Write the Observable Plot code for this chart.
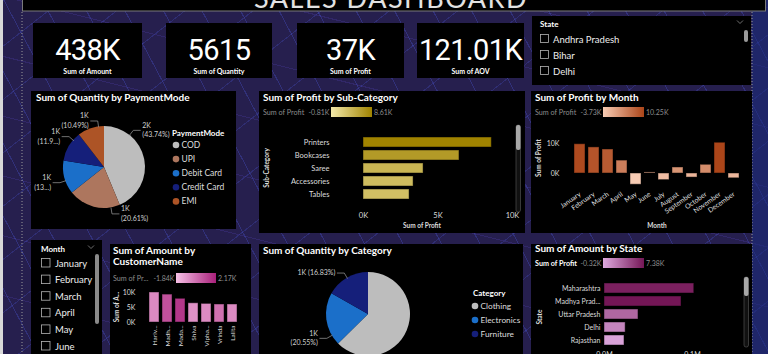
<!DOCTYPE html>
<html>
<head>
<meta charset="utf-8">
<script src="https://cdn.jsdelivr.net/npm/d3@7"></script>
<script src="https://cdn.jsdelivr.net/npm/@observablehq/plot@0.6"></script>
<style>
  html, body { margin:0; padding:0; background:#251e4c; overflow:hidden; }
  #root {
    position:relative; width:768px; height:354px; overflow:hidden;
    font-family: Lato, "Open Sans", sans-serif;
    background:
      repeating-linear-gradient(62deg, transparent 0 33px, rgba(72,84,210,.33) 33px 34px),
      repeating-linear-gradient(-38deg, transparent 0 41px, rgba(72,84,210,.28) 41px 42px),
      repeating-linear-gradient(14deg, transparent 0 57px, rgba(90,70,200,.22) 57px 58px),
      #261f4e;
  }
</style>
</head>
<body>
<div id="root">
  <svg id="base" width="768" height="354" style="position:absolute;left:0;top:0"></svg>
</div>
<script>
// ---------------- DATA ----------------
const dashboardTitle = "SALES DASHBOARD";
const kpiValues = ["438K", "5615", "37K", "121.01K"];
const kpiLabels = ["Sum of Amount", "Sum of Quantity", "Sum of Profit", "Sum of AOV"];
const stateSlicerItems = ["Andhra Pradesh", "Bihar", "Delhi"];
const monthSlicerItems = ["January", "February", "March", "April", "May", "June"];

const paymentModes = ["COD", "UPI", "Debit Card", "Credit Card", "EMI"];
const paymentShare = [43.74, 20.61, 13.21, 11.95, 10.49];
const paymentValueLabels = ["2K", "1K", "1K", "1K", "1K"];
const paymentPctLabels = ["(43.74%)", "(20.61%)", "(13...)", "(11.9...)", "(10.49%)"];

const subCategories = ["Printers", "Bookcases", "Saree", "Accessories", "Tables"];
const subCategoryProfit = [8.61, 6.44, 4.03, 3.36, 3.09]; // K
const subCategoryRange = [-0.81, 8.61];

const months = ["January", "February", "March", "April", "May", "June", "July", "August", "September", "October", "November", "December"];
const monthProfit = [9.75, 8.7, 8.0, 4.3, -3.73, 0.35, -2.2, 2.0, -1.35, 2.9, 10.25, -1.6]; // K
const monthRange = [-3.73, 10.25];

const customers = ["Hariv...", "Madh...", "Mada...", "Shiva", "Vipha...", "Vrinda", "Lalita"];
const customerAmount = [10.0, 9.3, 7.9, 6.4, 6.2, 6.0, 6.0]; // K
const customerProfit = [-0.45, 0.95, 1.6, -0.65, -0.5, 0.15, -0.5]; // K
const customerRange = [-1.84, 2.17];

const categories = ["Clothing", "Electronics", "Furniture"];
const categoryShare = [62.62, 20.55, 16.83];
const categoryLabelLines = [[], ["1K", "(20.55%)"], ["1K (16.83%)"]];

const states = ["Maharashtra", "Madhya Prad...", "Uttar Pradesh", "Delhi", "Rajasthan"];
const stateAmount = [0.102, 0.0875, 0.0386, 0.024, 0.0227]; // M
const stateProfit = [6.85, 7.38, 3.15, 1.6, 0.1]; // K
const stateRange = [-0.32, 7.38];

// ---------------- STYLES ----------------
const paymentColors = ["#bdbdbd", "#ad765e", "#1b6fc9", "#151f7a", "#ad5426"];
const categoryColors = ["#bdbdbd", "#1b6fc9", "#151f7a"];
const ramps = {
  sub: ["#f3e9aa", "#a08300"],
  month: ["#f8ccb4", "#ab4519"],
  cust: ["#f6c0e6", "#a8207a"],
  state: ["#dfaadf", "#741656"]
};
const FONT = "Lato, 'Open Sans', sans-serif";
const plotStyle = {background: "transparent", color: "#dcdcdc", fontFamily: FONT, fontSize: "7px", overflow: "visible"};
const fmtK = v => v.toFixed(2) + "K";

const root = document.getElementById("root");
const base = d3.select("#base");

// ---------------- BASE LAYOUT ----------------
function box(sel, x, y, w, h, fill, o = {}) {
  const r = sel.append("rect").attr("x", x).attr("y", y).attr("width", w).attr("height", h).attr("fill", fill);
  if (o.stroke) r.attr("stroke", o.stroke).attr("stroke-width", o.sw || 1);
  if (o.rx) r.attr("rx", o.rx);
  if (o.opacity != null) r.attr("fill-opacity", o.opacity);
  return r;
}
box(base, 752, 0, 16, 354, "#1a2c80", {opacity: 0.55});
box(base, 0, 0, 3, 354, "#d9d9d9");
base.append("line").attr("x1", 22).attr("x2", 22).attr("y1", 12).attr("y2", 354).attr("stroke", "#9a9a9a").attr("stroke-dasharray", "1,2");
base.append("line").attr("x1", 752).attr("x2", 752).attr("y1", 12).attr("y2", 354).attr("stroke", "#9a9a9a").attr("stroke-dasharray", "1,2");
box(base, 22.5, -2, 743, 13, "#000", {stroke: "#7a7a7a"});

const panelBoxes = [
  [33, 23, 109, 55], [166, 23, 106, 55], [297, 23, 107, 55], [417, 23, 107, 55],
  [532, 16, 219, 69],
  [31, 91, 205, 138], [259, 91, 266, 142], [531, 91, 221, 142],
  [31, 240, 71, 120], [110, 244, 141, 120], [259, 244, 264, 120], [531, 244, 221, 120]
];
panelBoxes.forEach(([x, y, w, h]) => box(base, x, y, w, h, "#000"));

function mount(svg, x, y) {
  svg.style.position = "absolute";
  svg.style.left = x + "px";
  svg.style.top = y + "px";
  root.appendChild(svg);
}

// ---------------- PIE HELPER ----------------
function piePlot({width, height, cx, cy, r, values, colors, labelAt, lines}) {
  const arcs = d3.pie().sort(null).value(d => d)(values);
  const pts = [], txt = [];
  arcs.forEach((a, i) => {
    if (!lines[i] || !lines[i].length) return;
    const th = a.startAngle + labelAt[i] * (a.endAngle - a.startAngle);
    const s = Math.sin(th), c = -Math.cos(th);
    const side = s >= 0 ? 1 : -1;
    const p0 = [cx + r * s, cy + r * c];
    const p1 = [cx + (r + 6) * s, cy + (r + 6) * c];
    const p2 = [p1[0] + side * 7, p1[1]];
    [p0, p1, p2].forEach(p => pts.push({i, x: p[0], y: p[1]}));
    const n = lines[i].length;
    lines[i].forEach((ln, k) => txt.push({x: p2[0] + side * 2, y: p2[1] + (k - (n - 1) / 2) * 9.5, text: ln, side}));
  });
  const wedges = () => {
    const g = d3.create("svg:g").attr("transform", `translate(${cx},${cy})`);
    const arc = d3.arc().innerRadius(0).outerRadius(r);
    g.selectAll("path").data(arcs).join("path").attr("d", arc).attr("fill", (d, i) => colors[i]);
    return g.node();
  };
  return Plot.plot({
    width, height, margin: 0,
    x: {type: "identity", axis: null},
    y: {type: "identity", axis: null},
    style: plotStyle,
    marks: [
      wedges,
      Plot.line(pts, {x: "x", y: "y", z: "i", stroke: "#8c8c8c", strokeWidth: 0.8}),
      Plot.text(txt.filter(d => d.side > 0), {x: "x", y: "y", text: "text", textAnchor: "start", fill: "#cfcfcf", fontSize: 7}),
      Plot.text(txt.filter(d => d.side < 0), {x: "x", y: "y", text: "text", textAnchor: "end", fill: "#cfcfcf", fontSize: 7})
    ]
  });
}

// ---------------- CHARTS ----------------
// Payment mode pie
mount(piePlot({
  width: 205, height: 138, cx: 73, cy: 76, r: 41,
  values: paymentShare, colors: paymentColors,
  labelAt: [0.24, 0.18, 0.41, 0.74, 0.78],
  lines: paymentModes.map((_, i) => [paymentValueLabels[i], paymentPctLabels[i]])
}), 31, 91);

// Profit by sub-category
const subData = subCategories.map((name, i) => ({name, profit: subCategoryProfit[i]}));
mount(Plot.plot({
  width: 266, height: 112, marginLeft: 104, marginRight: 13, marginTop: 14, marginBottom: 30,
  style: plotStyle,
  x: {domain: [0, 10], label: null},
  y: {domain: subCategories, paddingInner: 0.26, paddingOuter: 0.13, label: null},
  color: {type: "linear", domain: subCategoryRange, range: ramps.sub},
  marks: [
    Plot.barX(subData, {x: "profit", y: "name", fill: "profit", stroke: "#000", strokeOpacity: 0.45}),
    Plot.axisX({ticks: [0, 5, 10], tickFormat: d => d + "K", tickSize: 0, tickPadding: 10, fontSize: 7.5}),
    Plot.axisY({tickSize: 0, tickPadding: 34, fontSize: 7.5})
  ]
}), 259, 120);

// Profit by month
const monthData = months.map((month, i) => ({month, profit: monthProfit[i]}));
mount(Plot.plot({
  width: 221, height: 113, marginLeft: 39, marginRight: 8, marginTop: 20, marginBottom: 45,
  style: plotStyle,
  x: {domain: months, paddingInner: 0.18, paddingOuter: 0.09, label: null},
  y: {domain: [-5, 11], label: null},
  color: {type: "linear", domain: monthRange, range: ramps.month},
  marks: [
    Plot.barY(monthData, {x: "month", y: "profit", fill: "profit", stroke: "#000", strokeOpacity: 0.45}),
    Plot.axisY({ticks: [0, 10], tickFormat: d => d + "K", tickSize: 0, tickPadding: 11, fontSize: 7}),
    Plot.axisX({tickRotate: -35, tickSize: 0, tickPadding: 5, fontSize: 6.8})
  ]
}), 531, 120);

// Amount by customer
const custData = customers.map((name, i) => ({name, amount: customerAmount[i], profit: customerProfit[i]}));
mount(Plot.plot({
  width: 141, height: 69, marginLeft: 36, marginRight: 11, marginTop: 4, marginBottom: 32,
  style: plotStyle,
  x: {domain: customers, paddingInner: 0.25, paddingOuter: 0.125, label: null},
  y: {domain: [0, 11], label: null},
  color: {type: "linear", domain: customerRange, range: ramps.cust},
  marks: [
    Plot.barY(custData, {x: "name", y: "amount", fill: "profit", stroke: "#000", strokeOpacity: 0.45}),
    Plot.axisY({ticks: [0, 5, 10], tickFormat: d => d + "K", tickSize: 0, tickPadding: 11, fontSize: 7}),
    Plot.axisX({tickRotate: -90, tickSize: 0, tickPadding: 3, fontSize: 6.5})
  ]
}), 110, 285);

// Quantity by category pie
mount(piePlot({
  width: 264, height: 110, cx: 109, cy: 70, r: 42,
  values: categoryShare, colors: categoryColors,
  labelAt: [0.5, 0.2, 0.5],
  lines: categoryLabelLines
}), 259, 244);

// Amount by state
const stateData = states.map((name, i) => ({name, amount: stateAmount[i], profit: stateProfit[i]}));
mount(Plot.plot({
  width: 221, height: 90, marginLeft: 73, marginRight: 60, marginTop: 0, marginBottom: 22,
  style: plotStyle,
  x: {domain: [0, 0.1], label: null},
  y: {domain: states, paddingInner: 0.26, paddingOuter: 0.13, label: null},
  color: {type: "linear", domain: stateRange, range: ramps.state},
  marks: [
    Plot.barX(stateData, {x: "amount", y: "name", fill: "profit", stroke: "#000", strokeOpacity: 0.45}),
    Plot.axisY({tickSize: 0, tickPadding: 4, fontSize: 7}),
    Plot.axisX({ticks: [0, 0.1], tickFormat: d => d.toFixed(1) + "M", tickSize: 0, tickPadding: 4, fontSize: 7})
  ]
}), 531, 280);

// ---------------- OVERLAY TEXT ----------------
const ov = d3.select(root).append("svg").attr("width", 768).attr("height", 354)
  .style("position", "absolute").style("left", "0px").style("top", "0px");
const defs = ov.append("defs");
Object.entries(ramps).forEach(([k, [a, b]]) => {
  const g = defs.append("linearGradient").attr("id", "g-" + k);
  g.append("stop").attr("offset", "0%").attr("stop-color", a);
  g.append("stop").attr("offset", "100%").attr("stop-color", b);
});
function T(x, y, s, o = {}) {
  const t = ov.append("text").attr("x", x).attr("y", y).text(s)
    .attr("font-size", o.size || 8).attr("font-weight", o.weight || 400)
    .attr("fill", o.fill || "#fff").attr("text-anchor", o.anchor || "start")
    .attr("dominant-baseline", o.base || "central").attr("font-family", o.font || FONT);
  if (o.rotate) t.attr("transform", `rotate(${o.rotate},${x},${y})`);
  if (o.ls != null) t.attr("letter-spacing", o.ls);
  return t;
}
function chevron(x, y) {
  ov.append("path").attr("d", `M${x - 3},${y - 1.5} L${x},${y + 1.5} L${x + 3},${y - 1.5}`)
    .attr("fill", "none").attr("stroke", "#8a8a8a").attr("stroke-width", 0.8);
}
function legendRamp(x, y, label, range, key, o = {}) {
  T(x, y, label, {size: 7.2, fill: o.labelFill || "#8c8c8c", weight: o.labelWeight || 400});
  T(o.gx - 1.5, y, fmtK(range[0]), {size: 7, fill: "#8c8c8c", anchor: "end"});
  box(ov, o.gx, y - 5, o.gw, 10, `url(#g-${key})`);
  T(o.gx + o.gw + 2, y, fmtK(range[1]), {size: 7, fill: "#8c8c8c"});
}

// header
T(391, 8, dashboardTitle, {size: 27, anchor: "middle", base: "alphabetic", fill: "#e2e2e2", ls: 1.5, weight: 400});

// KPI cards
const kpiCenters = [87.5, 219, 350.5, 470.5];
kpiValues.forEach((v, i) => {
  T(kpiCenters[i], 59.5, v, {size: 29, font: "Roboto, sans-serif", anchor: "middle", base: "alphabetic", ls: -0.6});
  T(kpiCenters[i], 70.5, kpiLabels[i], {size: 7, weight: 700, anchor: "middle"});
});

// State slicer
T(540, 24, "State", {size: 8, weight: 700});
chevron(740, 22);
stateSlicerItems.forEach((s, i) => {
  const y = 39 + 16 * i;
  box(ov, 540.5, y - 4.5, 8, 8, "none", {stroke: "#b5b5b5", sw: 0.8});
  T(553, y, s, {size: 9.5, fill: "#eeeeee"});
});
box(ov, 744, 30, 4, 12, "#9a9a9a", {rx: 2});

// Month slicer
T(41, 249, "Month", {size: 8, weight: 700});
chevron(91, 247);
monthSlicerItems.forEach((s, i) => {
  const y = 263 + 16.6 * i;
  box(ov, 41.5, y - 4.5, 8.5, 8.5, "none", {stroke: "#b5b5b5", sw: 0.8});
  T(55, y, s, {size: 9.5, fill: "#eeeeee"});
});
box(ov, 95, 254, 4, 70, "#8a8a8a", {rx: 2});

// Payment panel
T(36, 97, "Sum of Quantity by PaymentMode", {size: 10, weight: 700});
T(172, 133, "PaymentMode", {size: 8, weight: 700});
paymentModes.forEach((m, i) => {
  const y = 145 + 14.1 * i;
  ov.append("circle").attr("cx", 176).attr("cy", y).attr("r", 3.3).attr("fill", paymentColors[i]);
  T(181.5, y, m, {size: 8.5, fill: "#dddddd"});
});

// Sub-category panel
T(263, 97, "Sum of Profit by Sub-Category", {size: 10, weight: 700});
legendRamp(263, 112, "Sum of Profit", subCategoryRange, "sub", {gx: 331, gw: 41});
T(422, 225, "Sum of Profit", {size: 6.5, weight: 700, anchor: "middle", fill: "#dddddd"});
T(266, 168, "Sub-Category", {size: 6.5, weight: 700, anchor: "middle", rotate: -90, fill: "#dddddd"});
box(ov, 516, 125, 4.5, 87, "#111", {stroke: "#5a5a5a", sw: 0.6, rx: 2});
box(ov, 516, 125, 4.5, 25, "#a8a8a8", {rx: 2});

// Month panel
T(535, 97, "Sum of Profit by Month", {size: 10, weight: 700});
legendRamp(535, 112, "Sum of Profit", monthRange, "month", {gx: 603, gw: 41});
T(538, 158, "Sum of Profit", {size: 6.5, weight: 700, anchor: "middle", rotate: -90, fill: "#dddddd"});
T(657, 225, "Month", {size: 6.5, weight: 700, anchor: "middle", fill: "#dddddd"});

// Customer panel
T(113, 250, "Sum of Amount by", {size: 10, weight: 700});
T(113, 261, "CustomerName", {size: 10, weight: 700});
legendRamp(113, 278, "Sum of Pr...", customerRange, "cust", {gx: 176, gw: 40});
T(116, 307, "Sum of A...", {size: 6.5, weight: 700, anchor: "middle", rotate: -90, fill: "#dddddd"});

// Category panel
T(263, 250, "Sum of Quantity by Category", {size: 10, weight: 700});
T(473, 293, "Category", {size: 8, weight: 700});
categories.forEach((c, i) => {
  const y = 306 + 14 * i;
  ov.append("circle").attr("cx", 475).attr("cy", y).attr("r", 3.3).attr("fill", categoryColors[i]);
  T(480.5, y, c, {size: 8.3, fill: "#dddddd"});
});

// State panel
T(535, 248, "Sum of Amount by State", {size: 10, weight: 700});
legendRamp(535, 263, "Sum of Profit", stateRange, "state", {gx: 603, gw: 41, labelFill: "#ffffff", labelWeight: 700});
T(539, 317, "State", {size: 6.5, weight: 700, anchor: "middle", rotate: -90, fill: "#dddddd"});
box(ov, 744, 277, 4.5, 70, "#111", {stroke: "#5a5a5a", sw: 0.6, rx: 2});
box(ov, 744, 277, 4.5, 19, "#a8a8a8", {rx: 2});
</script>
</body>
</html>
